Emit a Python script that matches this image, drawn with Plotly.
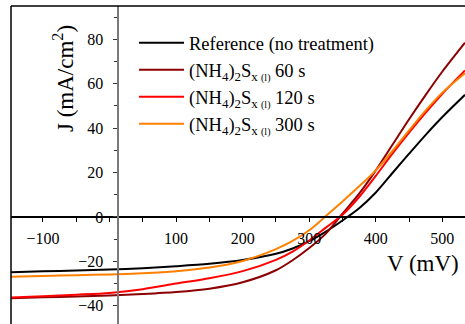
import plotly.graph_objects as go

V = [-148, -100, -50, 0, 50, 100, 150, 200, 250, 275, 300, 325, 350, 375, 400, 425, 450, 475, 500, 534]
J_ref = [-24.9, -24.5, -24.1, -23.7, -23.1, -22.2, -21.1, -19.4, -16.6, -14.2, -10.9, -6.6, -1.6, 3.9, 11.0, 19.8, 28.5, 37.0, 45.0, 55.0]
J_60 = [-36.6, -36.2, -35.8, -35.4, -34.7, -33.8, -32.3, -29.4, -24.0, -19.5, -14.0, -7.5, 1.5, 10.5, 21.0, 32.5, 44.0, 55.0, 65.5, 78.5]
J_120 = [-36.3, -35.7, -35.0, -34.2, -32.5, -30.0, -27.6, -24.4, -19.3, -15.6, -10.6, -4.8, 1.0, 9.0, 18.5, 28.5, 38.0, 47.0, 55.5, 66.0]
J_300 = [-26.9, -26.6, -26.2, -25.9, -25.3, -24.4, -22.8, -19.8, -14.5, -10.8, -6.0, 0.4, 7.0, 13.8, 21.0, 29.7, 39.0, 48.0, 56.0, 64.7]

SUB = "<sub>x <span style='font-size:10px'>(l)</span></sub>"
names = [
    "Reference (no treatment)",
    "(NH<sub>4</sub>)<sub>2</sub>S" + SUB + " 60 s",
    "(NH<sub>4</sub>)<sub>2</sub>S" + SUB + " 120 s",
    "(NH<sub>4</sub>)<sub>2</sub>S" + SUB + " 300 s",
]
colors = ["#000000", "#8B0000", "#FF0000", "#FF8000"]
series = [J_ref, J_60, J_120, J_300]

x_ticks = [-100, 100, 200, 300, 400, 500]
x_minor = [-50, 0, 50, 150, 250, 350, 450]
y_ticks = [-40, -20, 0, 20, 40, 60, 80]

x_range = [-148, 534]
y_range = [-48.2, 95.0]

FONT = "Liberation Serif"

fig = go.Figure()
for name, col, J in zip(names, colors, series):
    fig.add_trace(go.Scatter(x=V, y=J, mode="lines", name=name,
                             line=dict(color=col, width=2, shape="spline", smoothing=0.8)))

y0_paper = (0 - y_range[0]) / (y_range[1] - y_range[0])
x_axis_at = 12  # mV, where the vertical axis sits
x0_paper = (x_axis_at - x_range[0]) / (x_range[1] - x_range[0])

fig.update_layout(
    width=465, height=324,
    margin=dict(l=11, r=0, t=6, b=0),
    paper_bgcolor="white", plot_bgcolor="white",
    font=dict(family=FONT, size=16, color="black"),
    showlegend=True,
    legend=dict(x=0.271, y=0.943, xanchor="left", yanchor="top",
                bgcolor="rgba(0,0,0,0)", font=dict(family=FONT, size=18.5, color="black"),
                itemwidth=45, tracegroupgap=0),
    xaxis=dict(range=x_range, anchor="free", position=y0_paper,
               showline=True, linecolor="black", linewidth=1.5,
               showgrid=False, zeroline=False,
               tickmode="array", tickvals=x_ticks, ticks="outside", ticklen=4,
               tickcolor="black", ticklabelstandoff=3,
               minor=dict(tickmode="array", tickvals=x_minor,
                          ticks="outside", ticklen=4, tickcolor="black"),
               tickfont=dict(family=FONT, size=16, color="black")),
    yaxis=dict(range=y_range, anchor="free", position=x0_paper,
               showline=True, linecolor="#7a7a7a", linewidth=2,
               showgrid=False, zeroline=False,
               tickmode="array", tickvals=y_ticks, ticks="outside", ticklen=4,
               tickcolor="#333333", ticklabelstandoff=6,
               minor=dict(dtick=10, ticks="outside", ticklen=3, tickcolor="#333333"),
               tickfont=dict(family=FONT, size=16, color="black")),
    shapes=[
        dict(type="line", xref="paper", yref="paper", x0=0, x1=1.05, y0=1, y1=1,
             line=dict(color="black", width=1.5)),
        dict(type="line", xref="paper", yref="paper", x0=0, x1=0, y0=-0.1, y1=1,
             line=dict(color="black", width=1.5)),
    ],
    annotations=[
        dict(text="V (mV)", xref="paper", yref="paper",
             x=(423 - 11) / 454, y=1 - (263 - 6) / 318, showarrow=False,
             xanchor="center", yanchor="middle", font=dict(family=FONT, size=23, color="black")),
        dict(text="J (mA/cm<sup>2</sup>)", xref="paper", yref="paper",
             x=(63 - 11) / 454, y=1 - (79 - 6) / 318, showarrow=False, textangle=-90,
             xanchor="center", yanchor="middle", font=dict(family=FONT, size=23, color="black")),
    ],
)

fig.write_html("out.html")
